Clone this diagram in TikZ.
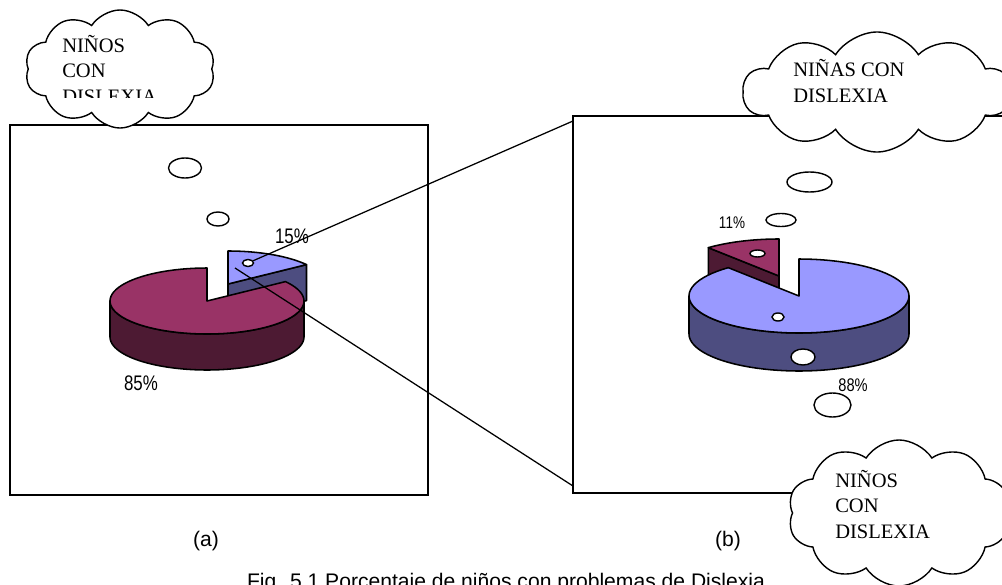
\documentclass[tikz,border=0pt]{standalone}
\usepackage{fontspec}
\usepackage{graphicx}
\usepackage{tikz}
\usetikzlibrary{shapes.geometric,shapes.symbols}
\setmainfont{Liberation Sans}
\newfontfamily\cloudfont{Liberation Serif}
\definecolor{SliceRed}{HTML}{993366}
\definecolor{SliceRedSide}{HTML}{4D1A33}
\definecolor{SliceBlue}{HTML}{9999FF}
\definecolor{SliceBlueSide}{HTML}{4D4D80}
\newcommand{\PctText}[1]{\scalebox{0.8}[1]{#1}}
\newcommand{\SliceTop}[7]{%
  \draw[wedge,fill=#1] (#2,#3) -- plot[domain=#6:#7,samples=80] ({#2+#4*cos(\x)},{#3-#5*sin(\x)}) -- cycle;%
}
\newcommand{\PieRim}[6]{%
  \draw[wedge,fill=#1] plot[domain=180:360,samples=60] ({#2+#4*cos(\x)},{#3-#5*sin(\x)})
    -- plot[domain=360:180,samples=60] ({#2+#4*cos(\x)},{#3+#6-#5*sin(\x)}) -- cycle;%
}
\tikzset{
  figure/.style={x=0.025cm,y=-0.025cm},
  frame/.style={draw=black,line width=1.4pt,inner sep=0pt},
  wedge/.style={draw=black,line width=1.1pt,line join=round},
  bubble/.style={ellipse,draw=black,fill=white,line width=1pt,inner sep=0pt},
  thought/.style={cloud,cloud puffs=10,cloud puff arc=115,draw=black,fill=white,line width=1pt,inner sep=0pt},
  cloudtext/.style={font=\cloudfont\fontsize{14.6}{17.8}\selectfont,align=left,anchor=base west,inner sep=0pt},
  caption/.style={font=\fontsize{15}{18}\selectfont,inner sep=0pt},
  zoomline/.style={draw=black,line width=0.9pt},
}

\begin{document}
\begin{tikzpicture}[figure]
  \useasboundingbox (0,0) rectangle (1002,585);
  \clip (0,0) rectangle (1002,585);

  \node[frame,minimum width=10.45cm,minimum height=9.25cm] (boxA) at (219,310) {};
  \node[frame,minimum width=11.675cm,minimum height=9.425cm] (boxB) at (806.5,304.5) {};

  % (a) 85% / 15%
  \draw[wedge,fill=SliceBlueSide] (228,284) -- (306.5,264.6) -- (306.5,300.6) -- (228,320) -- cycle;
  \SliceTop{SliceBlue}{228}{284}{97}{33}{36}{90}
  \PieRim{SliceRedSide}{207}{301}{97}{33}{36}
  \SliceTop{SliceRed}{207}{301}{97}{33}{90}{396}

  % (b) 11% / 88%
  \draw[wedge,fill=SliceRedSide] (779,276) -- (708.3,247.7) -- (708.3,285.7) -- (779,314) -- cycle;
  \SliceTop{SliceRed}{779}{276}{110}{37}{90}{130}
  \PieRim{SliceBlueSide}{799}{296}{110}{37}{38}
  \SliceTop{SliceBlue}{799}{296}{110}{37}{130}{450}

  \node[bubble,minimum width=0.825cm,minimum height=0.5cm] (bubA1) at (185,168) {};
  \node[bubble,minimum width=0.55cm,minimum height=0.35cm] (bubA2) at (218,219) {};
  \node[bubble,minimum width=0.275cm,minimum height=0.175cm] (bubA3) at (248,263) {};
  \node[bubble,minimum width=1.125cm,minimum height=0.5cm] (bubB1) at (809.5,182) {};
  \node[bubble,minimum width=0.75cm,minimum height=0.325cm] (bubB2) at (781,220) {};
  \node[bubble,minimum width=0.375cm,minimum height=0.175cm] (bubB3) at (757.5,253.5) {};
  \node[bubble,minimum width=0.3cm,minimum height=0.2cm] (bubB4) at (778,317) {};
  \node[bubble,minimum width=0.6cm,minimum height=0.4cm] (bubB5) at (803,357) {};
  \node[bubble,minimum width=0.925cm,minimum height=0.6cm] (bubB6) at (832.5,405) {};

  \coordinate (zoomFrom) at (235,268);
  \coordinate (zoomTop) at (573,121);
  \coordinate (zoomBot) at (573,486);
  \draw[zoomline] (bubA3) -- (zoomTop);
  \draw[zoomline] (zoomFrom) -- (zoomBot);

  \node[font=\fontsize{15}{15}\selectfont,inner sep=0pt] (pct15) at (292,236) {\PctText{15\%}};
  \node[font=\fontsize{15}{15}\selectfont,inner sep=0pt] (pct85) at (141,383) {\PctText{85\%}};
  \node[font=\fontsize{12}{12}\selectfont,inner sep=0pt] (pct11) at (732,223) {\PctText{11\%}};
  \node[font=\fontsize{13}{13}\selectfont,inner sep=0pt] (pct88) at (853,385) {\PctText{88\%}};

  \node[caption] (labA) at (206,541) {(a)};
  \node[caption] (labB) at (728,541) {(b)};
  \node[caption,anchor=base] (figCaption) at (506,588) {Fig. 5.1 Porcentaje de niños con problemas de Dislexia};

  \node[thought,minimum width=4.75cm,minimum height=2.95cm] (cloudBoys) at (120,69) {};
  \begin{scope}
    \clip (40,20) rectangle (210,97);
    \node[cloudtext] (txtBoys) at (62,103) {NIÑOS\\CON\\DISLEXIA};
  \end{scope}
  \node[thought,minimum width=6.7cm,minimum height=3cm] (cloudGirls) at (877,92) {};
  \node[cloudtext] (txtGirls) at (793,102) {NIÑAS CON\\DISLEXIA};
  \node[thought,minimum width=5.55cm,minimum height=3.65cm] (cloudBoysB) at (899,513) {};
  \node[cloudtext] (txtBoysB) at (835,538) {NIÑOS\\CON\\DISLEXIA};
\end{tikzpicture}
\end{document}
